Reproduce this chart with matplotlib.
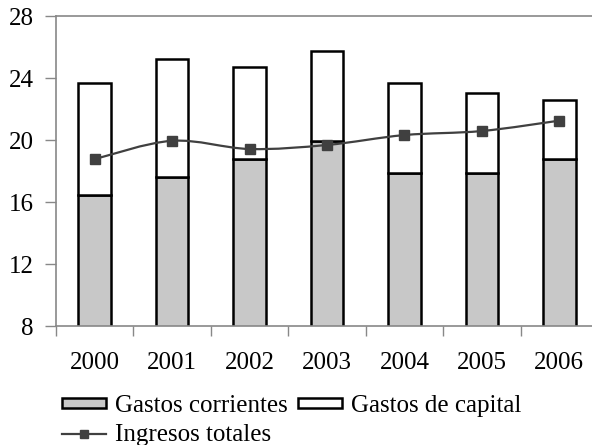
import numpy as np
import matplotlib
matplotlib.use("Agg")
import matplotlib.pyplot as plt
from matplotlib.path import Path
from matplotlib.patches import PathPatch, Patch
from matplotlib.lines import Line2D

years = ["2000", "2001", "2002", "2003", "2004", "2005", "2006"]
gastos_corrientes = [16.45, 17.6, 18.8, 19.95, 17.85, 17.85, 18.75]
gastos_capital = [7.25, 7.6, 5.9, 5.8, 5.85, 5.2, 3.8]
ingresos_totales = [18.77, 19.95, 19.42, 19.68, 20.32, 20.58, 21.25]
y_ticks = [8, 12, 16, 20, 24, 28]

plt.rcParams["font.family"] = ["Liberation Serif", "DejaVu Serif"]
plt.rcParams["font.size"] = 18

fig = plt.figure(figsize=(5.92, 4.45), dpi=100)
ax = fig.add_axes([0.0946, 0.2674, 0.9155, 0.6966])

x = np.arange(len(years))
bar_w = 0.42
ax.bar(x, gastos_corrientes, bar_w, color="#c8c8c8", edgecolor="black", linewidth=1.8, zorder=2)
ax.bar(x, gastos_capital, bar_w, bottom=gastos_corrientes, color="white",
       edgecolor="black", linewidth=1.8, zorder=2)

# smoothed line (Catmull-Rom -> cubic Bezier), like Excel's smoothed series
pts = np.column_stack([x, ingresos_totales]).astype(float)
ext = np.vstack([pts[0], pts, pts[-1]])
verts = [tuple(pts[0])]
codes = [Path.MOVETO]
for i in range(len(pts) - 1):
    p0, p1, p2, p3 = ext[i], ext[i + 1], ext[i + 2], ext[i + 3]
    c1 = p1 + (p2 - p0) / 6
    c2 = p2 - (p3 - p1) / 6
    verts += [tuple(c1), tuple(c2), tuple(p2)]
    codes += [Path.CURVE4] * 3
ax.add_patch(PathPatch(Path(verts, codes), facecolor="none", edgecolor="#404040",
                       linewidth=1.6, zorder=3))
ax.plot(x, ingresos_totales, linestyle="none", marker="s", markersize=7,
        color="#404040", zorder=4)

ax.set_xlim(-0.5, len(years) - 0.5)
ax.set_ylim(8, 28)
ax.set_yticks(y_ticks)
ax.set_xticks(np.arange(-0.5, len(years), 1.0))
ax.set_xticklabels([])
ax.set_xticks(x, minor=True)
ax.set_xticklabels(years, minor=True)
ax.tick_params(axis="x", which="major", length=7, width=1, color="#888888", direction="out")
ax.tick_params(axis="x", which="minor", length=0, pad=18.5)
ax.tick_params(axis="y", length=8, width=1, color="#888888", pad=8)

for side in ["left", "bottom", "top"]:
    ax.spines[side].set_color("#888888")
    ax.spines[side].set_linewidth(1.2)
ax.spines["right"].set_visible(False)

handles = [
    Patch(facecolor="#c8c8c8", edgecolor="black", linewidth=1.8),
    Line2D([], [], color="#404040", linewidth=1.6, marker="s", markersize=6),
    Patch(facecolor="white", edgecolor="black", linewidth=1.8),
]
labels = ["Gastos corrientes", "Ingresos totales", "Gastos de capital"]
fig.legend(handles, labels, ncol=2, loc="upper left",
           bbox_to_anchor=(62 / 592, 1 - 395 / 445), frameon=False,
           borderpad=0, borderaxespad=0, handlelength=1.76, handleheight=0.25,
           handletextpad=0.36, columnspacing=0.4, labelspacing=0.28)

fig.savefig("out.png", dpi=100)
